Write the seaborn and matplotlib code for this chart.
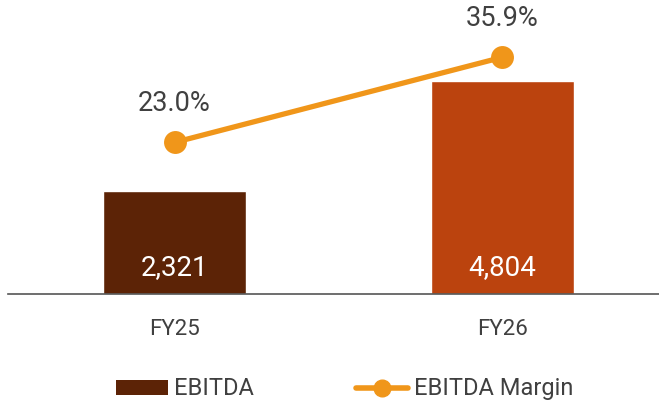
import numpy as np
import pandas as pd
import seaborn as sns
import matplotlib.pyplot as plt
from matplotlib.patches import Patch
from matplotlib.lines import Line2D

# data
years = ["FY25", "FY26"]
ebitda = [2321, 4804]
margin = [23.0, 35.9]
bar_colors = ["#5C2306", "#BB430E"]
line_color = "#F0961A"
text_color = "#404040"

sns.set_style("white")
plt.rcParams['font.family'] = ['Roboto', 'DejaVu Sans']

fig = plt.figure(figsize=(6.59, 4.01), dpi=100)
ax = fig.add_axes([0.0, (401 - 294) / 401, 1.0, 294 / 401])

df = pd.DataFrame({"year": years, "ebitda": ebitda, "margin": margin})
sns.barplot(data=df, x="year", y="ebitda", hue="year", palette=bar_colors,
            legend=False, width=0.437, ax=ax, saturation=1)

ax.set_xlim(-0.533, 1.479)
ax.set_ylim(0, 6625)
for i, v in enumerate(ebitda):
    ax.annotate(f"{v:,}", xy=(i, 0), xytext=(0, 19), textcoords="offset points",
                ha="center", va="center", color="white", fontsize=20)

ax2 = ax.twinx()
sns.lineplot(data=df, x="year", y="margin", color=line_color, marker="o",
             markersize=16.5, linewidth=3.8, ax=ax2, markeredgewidth=0)
ax2.set_ylim(0, 44.6)
for i, m in enumerate(margin):
    ax2.annotate(f"{m:.1f}%", xy=(i, m), xytext=(0, 28), textcoords="offset points",
                 ha="center", va="center", color=text_color, fontsize=19.5)

for a in (ax, ax2):
    a.set_yticks([])
    a.set_ylabel("")
    a.set_xlabel("")
    for s in ["top", "right", "left", "bottom"]:
        a.spines[s].set_visible(False)
ax.spines["bottom"].set_visible(True)
ax.spines["bottom"].set_color("#555555")
ax.spines["bottom"].set_linewidth(1.2)
ax.spines["bottom"].set_bounds(-0.509, 1.479)
ax.tick_params(axis="x", length=0, pad=18, labelsize=16, labelcolor=text_color)
ax2.tick_params(axis="x", length=0)

handles = [Patch(facecolor=bar_colors[0], edgecolor="none"),
           Line2D([0], [0], color=line_color, lw=4, marker="o", markersize=12)]
fig.legend(handles, ["EBITDA", "EBITDA Margin"], loc="center",
           bbox_to_anchor=(0.523, 0.03), ncol=2, frameon=False, fontsize=17,
           handlelength=2.2, handleheight=0.6, handletextpad=0.25,
           columnspacing=4.3, labelcolor=text_color)

fig.savefig("out.png", dpi=100)
